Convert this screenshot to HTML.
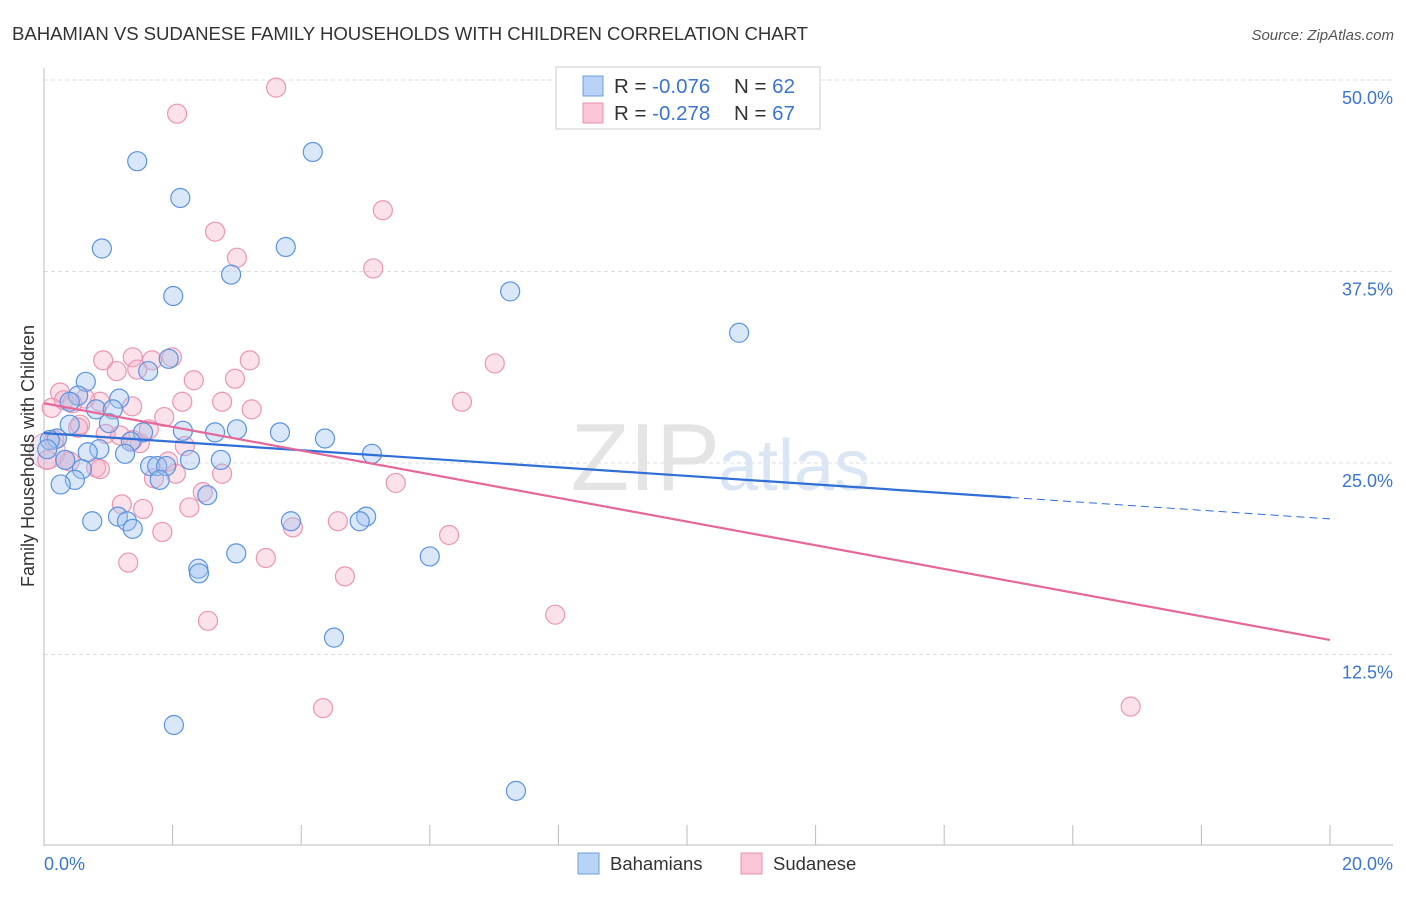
<!DOCTYPE html>
<html><head><meta charset="utf-8"><style>
body{margin:0;background:#fff;font-family:"Liberation Sans",sans-serif}
svg text{font-family:"Liberation Sans",sans-serif}
</style></head><body>
<svg width="1406" height="892">
<text x="12" y="40" font-size="18.6" fill="#333" textLength="796">BAHAMIAN VS SUDANESE FAMILY HOUSEHOLDS WITH CHILDREN CORRELATION CHART</text>
<text x="1394" y="40" font-size="15" fill="#555" font-style="italic" text-anchor="end">Source: ZipAtlas.com</text>
<g id="grid"></g>
<text x="720" y="490" font-size="96" fill="#e4e4e4" font-family="Liberation Serif" text-anchor="end">ZIP</text>
<text x="718" y="490" font-size="72" fill="#dbe6f5">atlas</text>
<line x1="44" y1="68" x2="44" y2="846" stroke="#bbb"/>
<line x1="44" y1="845" x2="1393" y2="845" stroke="#bbb"/>
<g id="ticks"></g>
<g id="pts"></g>
<g id="lines"></g>
<text transform="translate(34,456) rotate(-90)" font-size="18" fill="#333" text-anchor="middle">Family Households with Children</text>
<text x="44" y="870" font-size="18" fill="#3a75d0">0.0%</text>
<text x="1393" y="870" font-size="18" fill="#3a75d0" text-anchor="end">20.0%</text>
<g>
<rect x="556" y="67" width="264" height="62" fill="#fff" stroke="#ccc"/>
<rect x="583" y="76" width="20" height="20" fill="#b8d3f5" stroke="#6d9ee0"/>
<rect x="583" y="103" width="20" height="20" fill="#f8c6d6" stroke="#e890ae"/>
<text x="614" y="93" font-size="20.5" fill="#333">R = <tspan fill="#3a75d0">-0.076</tspan><tspan x="734">N = </tspan><tspan fill="#3a75d0">62</tspan></text>
<text x="614" y="120" font-size="20.5" fill="#333">R = <tspan fill="#3a75d0">-0.278</tspan><tspan x="734">N = </tspan><tspan fill="#3a75d0">67</tspan></text>
</g>
<g><rect x="578" y="853" width="21" height="21" fill="#b8d3f5" stroke="#6d9ee0"/><text x="610" y="870" font-size="18.5" fill="#333">Bahamians</text></g>
<g><rect x="741" y="853" width="21" height="21" fill="#f8c6d6" stroke="#e890ae"/><text x="773" y="870" font-size="18.5" fill="#333">Sudanese</text></g>
</svg>
<script>
const yTicks=[12.5,25,37.5,50];
const blueX=[1.45,4.18,2.12,0.90,3.76,2.91,2.01,7.25,10.81,1.62,1.94,0.65,0.53,1.17,0.40,0.81,1.07,2.66,3.67,4.37,1.01,0.40,3.00,2.16,1.54,0.20,0.09,1.35,0.86,0.68,1.26,5.10,2.27,2.75,0.33,1.65,1.76,1.90,0.59,0.48,1.80,0.26,2.54,0.75,1.15,1.29,1.38,3.84,5.01,4.91,2.99,6.00,2.40,2.41,4.51,2.02,7.34,0.05];
const blueY=[44.7,45.3,42.3,39.0,39.1,37.3,35.9,36.2,33.5,31.0,31.8,30.3,29.4,29.2,29.0,28.5,28.5,27.0,27.0,26.6,27.6,27.5,27.2,27.1,27.0,26.6,26.5,26.4,25.9,25.7,25.6,25.6,25.2,25.2,25.2,24.8,24.8,24.8,24.6,23.9,23.9,23.6,22.9,21.2,21.5,21.2,20.7,21.2,21.5,21.2,19.1,18.9,18.1,17.8,13.6,7.9,3.6,25.9];
const pinkX=[3.61,2.07,5.27,2.66,3.00,5.12,0.92,1.38,1.68,1.99,3.20,1.13,1.45,2.33,2.97,7.01,0.25,0.31,0.87,0.44,0.64,1.37,2.77,3.23,2.15,1.87,6.50,0.96,0.56,1.18,1.49,1.63,2.19,1.38,0.53,0.12,0.16,0.05,0.40,1.93,0.81,1.71,2.05,2.77,5.47,2.47,1.21,2.26,1.54,4.57,3.87,6.30,1.84,1.31,3.45,4.68,7.95,2.55,4.34,16.90,0.33,0.87];
const pinkY=[49.5,47.8,41.5,40.1,38.4,37.7,31.7,31.9,31.7,31.9,31.7,31.0,31.1,30.4,30.5,31.5,29.6,29.1,29.0,28.9,29.2,28.7,29.0,28.5,29.0,28.0,29.0,26.9,27.5,26.8,26.3,27.2,26.1,26.5,27.3,28.6,26.5,25.2,25.1,25.1,24.7,24.0,24.3,24.3,23.7,23.1,22.3,22.1,22.0,21.2,20.8,20.3,20.5,18.5,18.8,17.6,15.1,14.7,9.0,9.1,25.2,24.6];
const trendBlue=[26.95,22.75,21.35];
const trendBlueX=[0,15.04,20];
const trendPink=[28.9,13.45];
const X=v=>44+v*64.3, Y=v=>846-v*15.32;
const ns='http://www.w3.org/2000/svg';
function mk(t,a,p){const e=document.createElementNS(ns,t);for(const k in a)e.setAttribute(k,a[k]);p.appendChild(e);return e;}
const grid=document.getElementById('grid');
yTicks.forEach(t=>{
 const l=mk('line',{x1:44,x2:1393,y1:Y(t),y2:Y(t),stroke:'#ddd','stroke-dasharray':'4,3'},grid);
 
 
 const tx=mk('text',{x:1393,y:Y(t)+24,'font-size':18,fill:'#3a75d0','text-anchor':'end'},grid);
 tx.textContent=t.toFixed(1)+'%';
 
 
});
const tk=document.getElementById('ticks');
for(let i=0;i<=10;i++){const l=mk('line',{x1:X(i*2),x2:X(i*2),y1:825,y2:845,stroke:'#bbb'},tk);
 
 }
const pts=document.getElementById('pts');
const big=mk('circle',{cx:X(0.05),cy:Y(25.8),r:18,fill:'rgba(200,180,220,0.3)',stroke:'#d9a6c2'},pts);


pinkX.forEach((x,i)=>{const c=mk('circle',{cx:X(x),cy:Y(pinkY[i]),r:9.5,fill:'rgba(244,168,196,0.35)',stroke:'#ec95b3','stroke-width':1.2},pts);
 
 });
blueX.forEach((x,i)=>{const c=mk('circle',{cx:X(x),cy:Y(blueY[i]),r:9.5,fill:'rgba(160,196,240,0.4)',stroke:'#5b93e0','stroke-width':1.2},pts);
 
 });
const ln=document.getElementById('lines');
const b1=mk('line',{x1:X(trendBlueX[0]),y1:Y(trendBlue[0]),x2:X(trendBlueX[1]),y2:Y(trendBlue[1]),stroke:'#2f6fd6','stroke-width':2.2},ln);


const b2=mk('line',{x1:X(trendBlueX[1]),y1:Y(trendBlue[1]),x2:X(trendBlueX[2]),y2:Y(trendBlue[2]),stroke:'#2f6fd6','stroke-width':1,'stroke-dasharray':'8,5'},ln);


const p1=mk('line',{x1:X(0),y1:Y(trendPink[0]),x2:X(20),y2:Y(trendPink[1]),stroke:'#e5689a','stroke-width':2.2},ln);


</script>
</body></html>
